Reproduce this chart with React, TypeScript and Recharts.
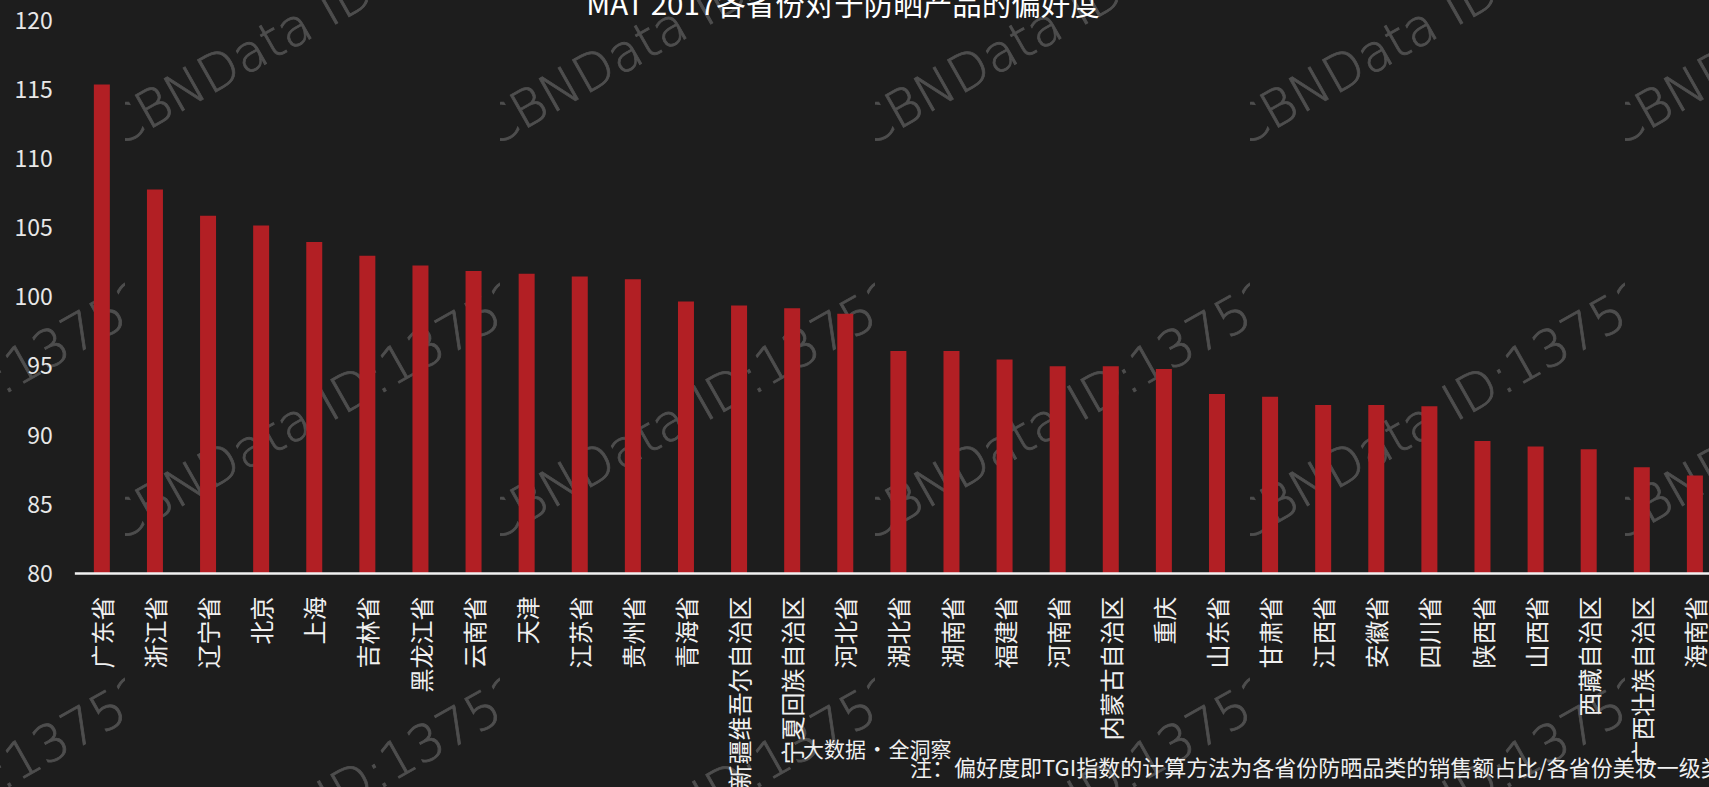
import React from 'react';
import { BarChart, Bar, XAxis, YAxis } from 'recharts';

const categories = ['广东省','浙江省','辽宁省','北京','上海','吉林省','黑龙江省','云南省','天津','江苏省','贵州省','青海省','新疆维吾尔自治区','宁夏回族自治区','河北省','湖北省','湖南省','福建省','河南省','内蒙古自治区','重庆','山东省','甘肃省','江西省','安徽省','四川省','陕西省','山西省','西藏自治区','广西壮族自治区','海南省'];
const values = [115.4,107.8,105.9,105.2,104.0,103.0,102.3,101.9,101.7,101.5,101.3,99.7,99.4,99.2,98.8,96.1,96.1,95.5,95.0,95.0,94.8,93.0,92.8,92.2,92.2,92.1,89.6,89.2,89.0,87.7,87.1];
const yTicks = [80,85,90,95,100,105,110,115,120];
const title = 'MAT 2017各省份对于防晒产品的偏好度';
const brandText = '大数据 · 全洞察';
const noteText = '注：偏好度即TGI指数的计算方法为各省份防晒品类的销售额占比/各省份美妆一级类目的销售额占比×100';
const watermarkText = 'CBNData ID:13752';
const wmCols = [-250, 125, 500, 875, 1250, 1625];
const wmRows = [148, 543, 938];

const data = categories.map((name, i) => ({ name, value: values[i] }));

const FONT = '"Noto Sans CJK SC", "Noto Sans", sans-serif';

const XTick = (props: any) => {
  const { x, y, payload } = props;
  const ty = y + 23;
  return (
    <text
      x={x}
      y={ty}
      transform={`rotate(-90, ${x}, ${ty})`}
      textAnchor="end"
      dominantBaseline="central"
      fill="#f0f0f0"
      fontSize={24}
      fontFamily={FONT}
    >
      {payload.value}
    </text>
  );
};

export default function App() {
  return (
    <div style={{ position: 'fixed', left: 0, top: 0, width: 1709, height: 787, overflow: 'hidden', background: '#1d1d1d' }}>
      <svg width={1709} height={787} style={{ position: 'absolute', left: 0, top: 0, pointerEvents: 'none' }}>
        <defs>
          {wmCols.map((c, i) => (
            <clipPath id={`wmclip${i}`} key={i}>
              <rect x={c} y={0} width={375} height={787} />
            </clipPath>
          ))}
        </defs>
        {wmCols.map((c, i) => (
          <g key={i} clipPath={`url(#wmclip${i})`}>
            {wmRows.map((r, j) => (
              <text
                key={j}
                x={c - 8}
                y={r}
                transform={`rotate(-29.5, ${c - 8}, ${r})`}
                fill="#4e4e4e"
                stroke="#4e4e4e"
                strokeWidth={0.8}
                fontSize={51}
                fontWeight={200}
                fontFamily='"DejaVu Sans", sans-serif'
              >
                {watermarkText}
              </text>
            ))}
          </g>
        ))}
      </svg>
      <div style={{ position: 'absolute', left: 0, top: 0 }}>
        <BarChart width={1721} height={787} data={data} margin={{ top: 21, right: 0, bottom: 13.5, left: 0 }}>
          <XAxis
            dataKey="name"
            interval={0}
            tickLine={false}
            tickSize={0}
            tickMargin={0}
            height={200}
            axisLine={{ stroke: '#f2f2f2', strokeWidth: 2.5 }}
            tick={<XTick />}
          />
          <YAxis
            domain={[80, 120]}
            ticks={yTicks}
            width={74.85}
            tickLine={false}
            axisLine={false}
            tickSize={0}
            tickMargin={22}
            tick={{ fill: '#e8e8e8', fontSize: 23, fontFamily: FONT }}
          />
          <Bar dataKey="value" fill="#b21f24" barSize={16} isAnimationActive={false} />
        </BarChart>
      </div>
      <svg width={1709} height={787} style={{ position: 'absolute', left: 0, top: 0, pointerEvents: 'none' }}>
        <text x={843} y={15} textAnchor="middle" fill="#ffffff" fontSize={29.5} fontFamily={FONT}>{title}</text>
        <text x={803} y={757} fill="#f0f0f0" fontSize={21} fontFamily={FONT} wordSpacing={-4}>{brandText}</text>
        <text x={910} y={776} fill="#f0f0f0" fontSize={22} fontFamily={FONT}>{noteText}</text>
      </svg>
    </div>
  );
}
